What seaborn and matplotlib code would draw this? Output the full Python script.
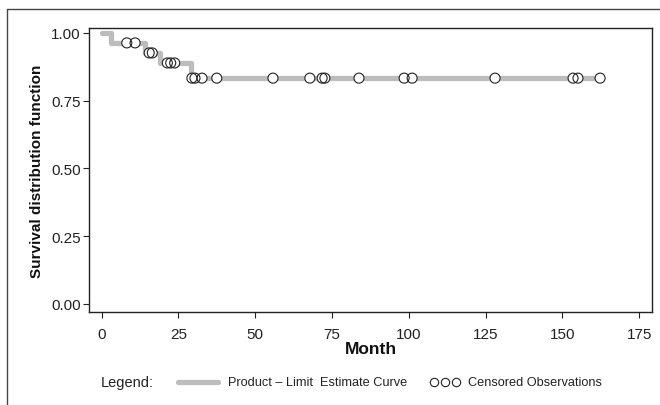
import numpy as np
import pandas as pd
import matplotlib
matplotlib.use("Agg")
import matplotlib.pyplot as plt
from matplotlib.lines import Line2D
import seaborn as sns

# Product-limit (Kaplan-Meier) estimate: step times and survival levels
step_times = [0, 3, 14, 19, 29, 162.3]
step_surv = [1.0, 0.963, 0.926, 0.889, 0.833, 0.833]
# Censored observation times
censored_times = [8.2, 10.9, 15.5, 16.5, 21.4, 22.5, 23.8, 29.4, 30.4, 32.7,
                  37.5, 55.8, 67.8, 71.8, 72.7, 83.8, 98.5, 101.1, 128.1,
                  153.5, 155.1, 162.3]
x_ticks = [0, 25, 50, 75, 100, 125, 150, 175]
y_ticks = [0.0, 0.25, 0.5, 0.75, 1.0]

sns.set_style("white")
FONT = ["Liberation Sans Narrow", "Liberation Sans", "DejaVu Sans"]
plt.rcParams["font.family"] = FONT

curve = pd.DataFrame({"Month": step_times, "S": step_surv})
idx = np.searchsorted(step_times, censored_times, side="right") - 1
cens = pd.DataFrame({"Month": censored_times,
                     "S": np.array(step_surv)[idx]})

fig = plt.figure(figsize=(6.6, 4.06), dpi=100)
ax = fig.add_axes([89/660, 1-313/406, (652-89)/660, (313-29)/406])

sns.lineplot(data=curve, x="Month", y="S", ax=ax, color="#bdbdbd",
             linewidth=3.8, drawstyle="steps-post", sort=False, zorder=2)
sns.scatterplot(data=cens, x="Month", y="S", ax=ax, s=52, color="white",
                edgecolor="none", linewidth=0, zorder=3)
sns.scatterplot(data=cens, x="Month", y="S", ax=ax, s=52, facecolor="none",
                edgecolor="#222222", linewidth=0.8, zorder=4)

ax.set_xlim(-4.1, 179.2)
ax.set_ylim(-0.03, 1.018)
ax.set_xticks(x_ticks)
ax.set_xticklabels([str(t) for t in x_ticks])
ax.set_yticks(y_ticks)
ax.set_yticklabels([f"{t:.2f}" for t in y_ticks])
ax.tick_params(axis="both", which="major", length=4, width=0.8,
               direction="out", colors="#222222", labelsize=11, pad=2,
               left=True, bottom=True)
ax.tick_params(axis="x", pad=7)
for sp in ax.spines.values():
    sp.set_visible(True)
    sp.set_color("#222222")
    sp.set_linewidth(1.0)

ax.set_xlabel("Month", fontsize=12.5, fontweight="bold", color="#111111",
              labelpad=0)
ax.set_ylabel("Survival distribution function", fontsize=11,
              fontweight="bold", color="#111111", labelpad=5)

# outer frame
fig.add_artist(Line2D([7/660, 7/660], [0, 1-10/406], transform=fig.transFigure,
                      color="#444444", linewidth=1.0))
fig.add_artist(Line2D([7/660, 1], [1-10/406, 1-10/406], transform=fig.transFigure,
                      color="#444444", linewidth=1.0))

# legend
ly = 1 - 383/406
fig.text(101/660, ly, "Legend:", fontsize=10.5, va="center", ha="left",
         color="#222222")
fig.add_artist(Line2D([178/660, 218/660], [ly, ly], transform=fig.transFigure,
                      color="#bdbdbd", linewidth=3.8))
fig.text(228/660, ly, "Product \u2013 Limit  Estimate Curve", fontsize=9.2,
         va="center", ha="left", color="#222222")
for cx in [434, 445, 456]:
    fig.add_artist(Line2D([cx/660], [ly], transform=fig.transFigure,
                          marker="o", markersize=6, markerfacecolor="none",
                          markeredgecolor="#222222", markeredgewidth=0.8,
                          linestyle="none"))
fig.text(468/660, ly, "Censored Observations", fontsize=9.2, va="center",
         ha="left", color="#222222")

fig.savefig("out.png", dpi=100)
